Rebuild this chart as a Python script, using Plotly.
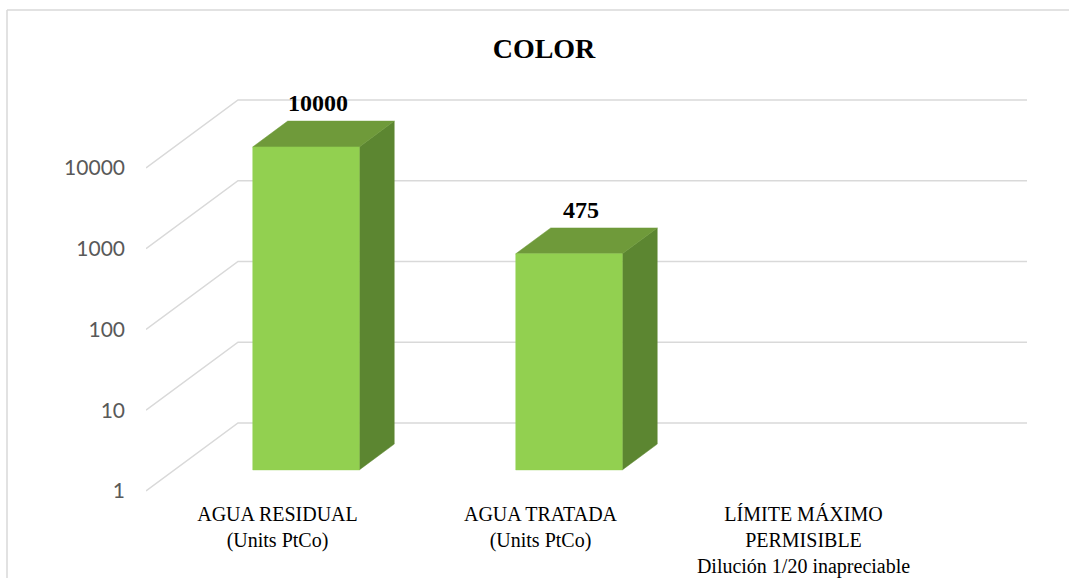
import plotly.graph_objects as go
import math

# ---- data ----
categories = ["AGUA RESIDUAL<br>(Units PtCo)",
              "AGUA TRATADA<br>(Units PtCo)",
              "LÍMITE MÁXIMO<br>PERMISIBLE<br>Dilución 1/20 inapreciable"]
values = [10000, 475, None]
value_labels = ["10000", "475", ""]
tick_values = [1, 10, 100, 1000, 10000]
tick_labels = ["1", "10", "100", "1000", "10000"]
title_text = "COLOR"

# ---- style / 3D projection parameters ----
W, H = 1069, 578
L_PX, R_PX, T_PX, B_PX = 146, 1027, 90, 496
CAT_PX = 263.0          # px per category on the front plane
DEC_PX = 80.75          # px per decade
DX = 92 / CAT_PX        # depth offset in x units
DY = 68 / DEC_PX        # depth offset in decades
D0, D1 = 0.31, 0.69     # bar depth span
BAR_W = 0.405
FRONT = "#92D050"
TOP = "#6F9A3A"
SIDE = "#5C8631"
GRID = "#D9D9D9"

n = len(categories)
x_range = [0, n + DX]
y_lo = -(B_PX - 491) / DEC_PX
y_range = [y_lo, y_lo + (B_PX - T_PX) / DEC_PX]

fig = go.Figure()

# gridlines: side-wall diagonal + back-wall horizontal
for v in tick_values:
    lv = math.log10(v)
    fig.add_trace(go.Scatter(
        x=[0, DX, n + DX],
        y=[v, 10 ** (lv + DY), 10 ** (lv + DY)],
        mode="lines", line=dict(color=GRID, width=1.5),
        hoverinfo="skip", showlegend=False))

annotations = []
for i, (v, lab) in enumerate(zip(values, value_labels)):
    if v is None:
        continue
    lv = math.log10(v)
    xc = i + 0.5
    xl, xr = xc - BAR_W / 2, xc + BAR_W / 2
    # front face
    fx = [xl + D0 * DX, xr + D0 * DX, xr + D0 * DX, xl + D0 * DX, xl + D0 * DX]
    fy = [10 ** (D0 * DY), 10 ** (D0 * DY), 10 ** (lv + D0 * DY), 10 ** (lv + D0 * DY), 10 ** (D0 * DY)]
    # top face
    tx = [xl + D0 * DX, xr + D0 * DX, xr + D1 * DX, xl + D1 * DX, xl + D0 * DX]
    ty = [10 ** (lv + D0 * DY), 10 ** (lv + D0 * DY), 10 ** (lv + D1 * DY), 10 ** (lv + D1 * DY), 10 ** (lv + D0 * DY)]
    # side face
    sx = [xr + D0 * DX, xr + D1 * DX, xr + D1 * DX, xr + D0 * DX, xr + D0 * DX]
    sy = [10 ** (lv + D0 * DY), 10 ** (lv + D1 * DY), 10 ** (D1 * DY), 10 ** (D0 * DY), 10 ** (lv + D0 * DY)]
    for px_, py_, col in [(sx, sy, SIDE), (tx, ty, TOP), (fx, fy, FRONT)]:
        fig.add_trace(go.Scatter(x=px_, y=py_, fill="toself", fillcolor=col,
                                 mode="lines", line=dict(color=col, width=0.5),
                                 hoverinfo="skip", showlegend=False))
    annotations.append(dict(
        x=xc + (D0 + D1) / 2 * DX, y=lv + D1 * DY, xref="x", yref="y",
        text="<b>%s</b>" % lab, showarrow=False, yanchor="bottom", xanchor="center",
        xshift=-6, yshift=3,
        font=dict(family="Liberation Serif", size=24, color="black")))

# chart border
def xp(px):
    return (px - L_PX) / (R_PX - L_PX)

def yp(py):
    return (B_PX - py) / (B_PX - T_PX)

shapes = [
    dict(type="line", xref="paper", yref="paper", x0=xp(7), x1=xp(7), y0=yp(10), y1=yp(578),
         line=dict(color=GRID, width=1.5)),
    dict(type="line", xref="paper", yref="paper", x0=xp(7), x1=xp(1069), y0=yp(10), y1=yp(10),
         line=dict(color=GRID, width=1.5)),
]

fig.update_layout(
    width=W, height=H,
    margin=dict(l=L_PX, r=W - R_PX, t=T_PX, b=H - B_PX, autoexpand=False),
    paper_bgcolor="white", plot_bgcolor="white",
    title=dict(text="<b>%s</b>" % title_text, x=544 / W, xref="container", xanchor="center",
               y=1 - 48 / H, yref="container", yanchor="middle",
               font=dict(family="Liberation Serif", size=28, color="black")),
    xaxis=dict(range=x_range, tickmode="array", tickvals=[i + 0.5 for i in range(n)],
               ticktext=categories, showgrid=False, zeroline=False, showline=False,
               ticks="", ticklabelstandoff=4, automargin=False,
               tickfont=dict(family="Liberation Serif", size=20, color="black")),
    yaxis=dict(type="log", range=y_range, tickmode="array", tickvals=tick_values,
               ticktext=tick_labels, showgrid=False, zeroline=False, showline=False,
               ticks="", ticklabelstandoff=20, automargin=False,
               tickfont=dict(family="Lato", size=21, color="#595959")),
    annotations=annotations,
    shapes=shapes,
)

fig.write_html("out.html")
